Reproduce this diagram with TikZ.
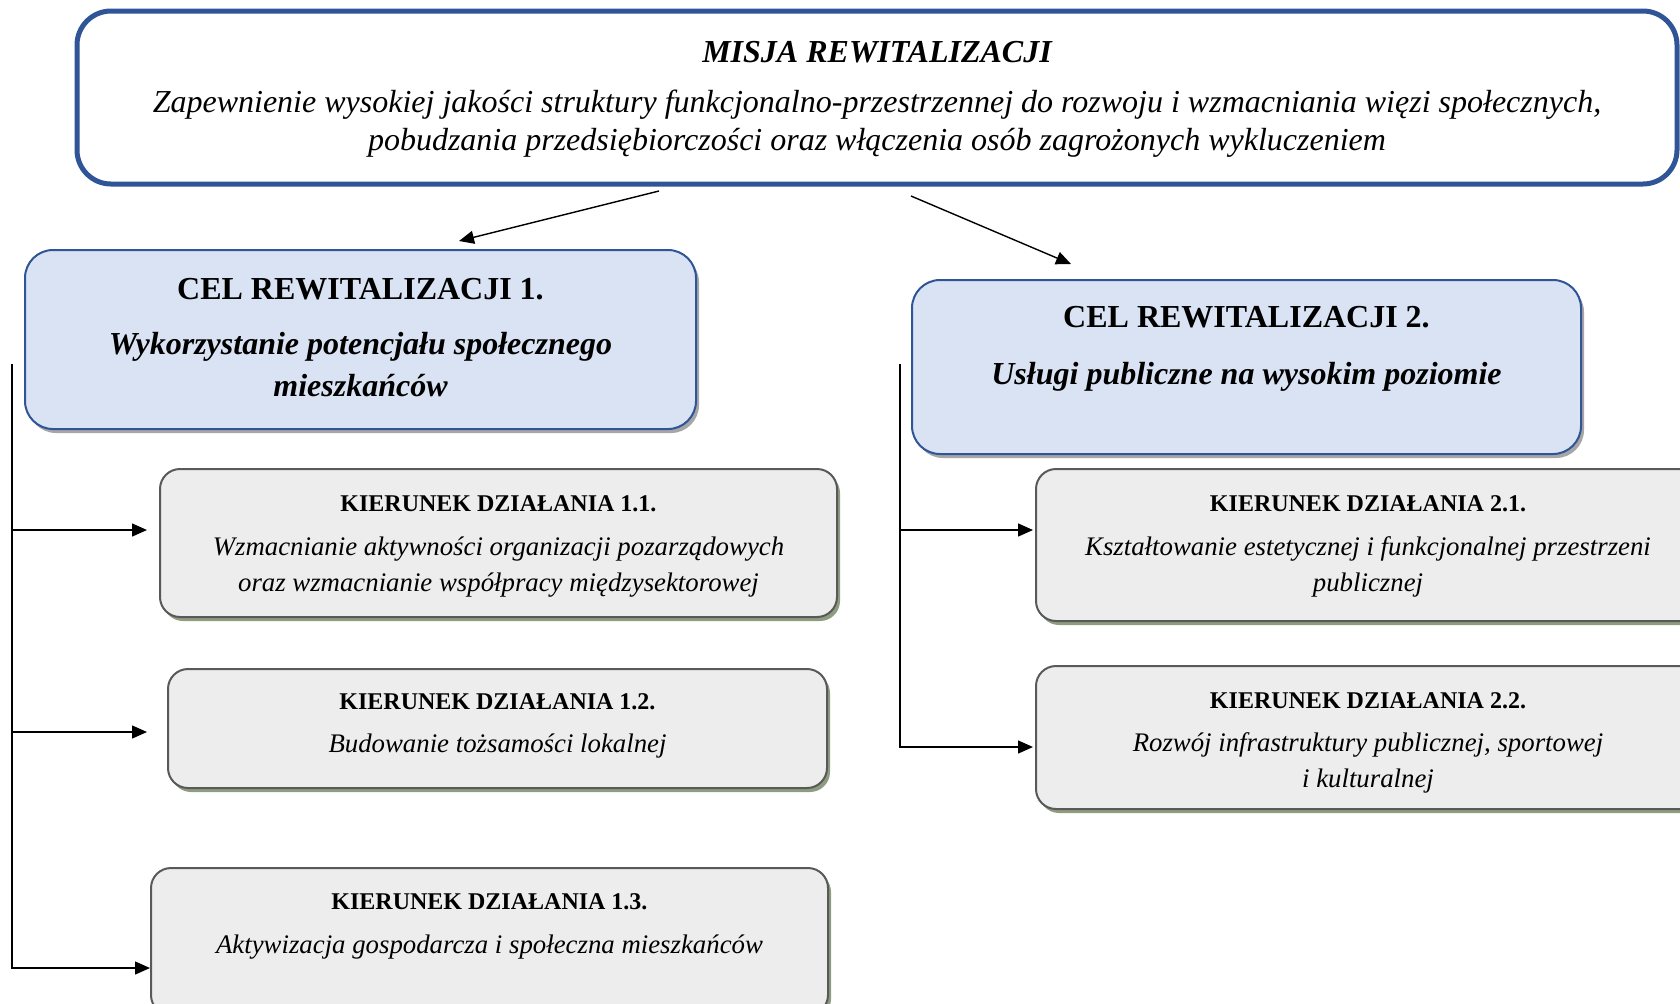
\documentclass[tikz,border=0pt]{standalone}
\usepackage{fontspec}
\setmainfont{Liberation Serif}
\usetikzlibrary{arrows.meta,shadows}
\definecolor{misjablue}{HTML}{2F5597}
\definecolor{celfill}{HTML}{DAE3F3}
\definecolor{celshadow}{HTML}{A6A6A6}
\definecolor{kierfill}{HTML}{EDEDED}
\definecolor{kierborder}{HTML}{595959}
\definecolor{kiershadow}{HTML}{8E9C7F}

\tikzset{
  misjabox/.style = {draw = misjablue, line width = 2.5pt, fill = white, rounded corners = 17pt, inner sep = 0pt},
  celbox/.style = {draw = misjablue, line width = 1pt, fill = celfill, rounded corners = 14pt, inner sep = 0pt,
    drop shadow = {shadow xshift = 1.5pt, shadow yshift = -2pt, fill = celshadow, opacity = 1}},
  kierbox/.style = {draw = kierborder, line width = 1pt, fill = kierfill, rounded corners = 10pt, inner sep = 0pt,
    drop shadow = {shadow xshift = 1.5pt, shadow yshift = -2pt, fill = kiershadow, opacity = 1}},
  misjatitle/.style = {font = \fontsize{16}{19}\selectfont\bfseries\itshape, inner sep = 0pt},
  misjatext/.style = {font = \fontsize{16}{19}\selectfont\itshape, align = center, inner sep = 0pt},
  celtitle/.style = {font = \fontsize{16}{21}\selectfont\bfseries, inner sep = 0pt},
  celtext/.style = {font = \fontsize{16}{21}\selectfont\bfseries\itshape, align = center, inner sep = 0pt},
  kiertitle/.style = {font = \fontsize{12}{14}\selectfont\bfseries, inner sep = 0pt},
  kiertext/.style = {font = \fontsize{13.4}{18}\selectfont\itshape, align = center, inner sep = 0pt},
  arr/.style = {-{Triangle[length = 7.5pt, width = 6.5pt]}, line width = 0.7pt}
}

\begin{document}
\begin{tikzpicture}[x = 0.5pt, y = -0.5pt]
        \useasboundingbox (0,0) rectangle (1680,1003);

        % Boxes
        \node [misjabox, minimum width = 800pt, minimum height = 86.5pt] (mis) at (877,97.5) {};
        \node [celbox, minimum width = 335.5pt, minimum height = 89.5pt] (cel1) at (360.5,339.5) {};
        \node [celbox, minimum width = 334.5pt, minimum height = 87pt] (cel2) at (1246.5,367) {};
        \node [kierbox, minimum width = 338.5pt, minimum height = 74pt] (k11) at (498.5,543) {};
        \node [kierbox, minimum width = 329.5pt, minimum height = 59.5pt] (k12) at (497.5,728.5) {};
        \node [kierbox, minimum width = 338.5pt, minimum height = 73.5pt] (k13) at (489.5,941.5) {};
        \node [kierbox, minimum width = 332pt, minimum height = 76pt] (k21) at (1368,545) {};
        \node [kierbox, minimum width = 332pt, minimum height = 71.5pt] (k22) at (1368,737.5) {};

        % Texts
        \node [misjatitle] (mist) at (877,52) {MISJA REWITALIZACJI};
        \node [misjatext] (misb) at (877,124) {Zapewnienie wysokiej jakości struktury funkcjonalno-przestrzennej do rozwoju i wzmacniania więzi społecznych,\\ pobudzania przedsiębiorczości oraz włączenia osób zagrożonych wykluczeniem};
        \node [celtitle] (cel1t) at (360.5,289) {CEL REWITALIZACJI 1.};
        \node [celtext] (cel1b) at (360.5,365) {Wykorzystanie potencjału społecznego\\ mieszkańców};
        \node [celtitle] (cel2t) at (1246.5,317) {CEL REWITALIZACJI 2.};
        \node [celtext] (cel2b) at (1246.5,377) {Usługi publiczne na wysokim poziomie};
        \node [kiertitle] (k11t) at (498.5,504) {KIERUNEK DZIAŁANIA 1.1.};
        \node [kiertext] (k11b) at (498.5,567) {Wzmacnianie aktywności organizacji pozarządowych\\ oraz wzmacnianie współpracy międzysektorowej};
        \node [kiertitle] (k12t) at (497.5,702) {KIERUNEK DZIAŁANIA 1.2.};
        \node [kiertext] (k12b) at (497.5,746) {Budowanie tożsamości lokalnej};
        \node [kiertitle] (k13t) at (489.5,902) {KIERUNEK DZIAŁANIA 1.3.};
        \node [kiertext] (k13b) at (489.5,947) {Aktywizacja gospodarcza i społeczna mieszkańców};
        \node [kiertitle] (k21t) at (1368,504) {KIERUNEK DZIAŁANIA 2.1.};
        \node [kiertext] (k21b) at (1368,567) {Kształtowanie estetycznej i funkcjonalnej przestrzeni\\ publicznej};
        \node [kiertitle] (k22t) at (1368,701) {KIERUNEK DZIAŁANIA 2.2.};
        \node [kiertext] (k22b) at (1368,763) {Rozwój infrastruktury publicznej, sportowej\\ i kulturalnej};

        % Connector ends
        \coordinate (m1) at (659,191);
        \coordinate (c1) at (459,241);
        \coordinate (m2) at (911,196);
        \coordinate (c2) at (1071,264);
        \coordinate (busL) at (12,364);
        \coordinate (t11) at (147,530);
        \coordinate (t12) at (147,732);
        \coordinate (t13) at (150,968);
        \coordinate (busR) at (900,364);
        \coordinate (t21) at (1033,530);
        \coordinate (t22) at (1033,747);

        % Lines
        \draw [arr] (m1) -- (c1);
        \draw [arr] (m2) -- (c2);
        \draw [arr] (busL) |- (t13);
        \draw [arr] (busL |- t11) -- (t11);
        \draw [arr] (busL |- t12) -- (t12);
        \draw [arr] (busR) |- (t22);
        \draw [arr] (busR |- t21) -- (t21);

    \end{tikzpicture}
\end{document}
